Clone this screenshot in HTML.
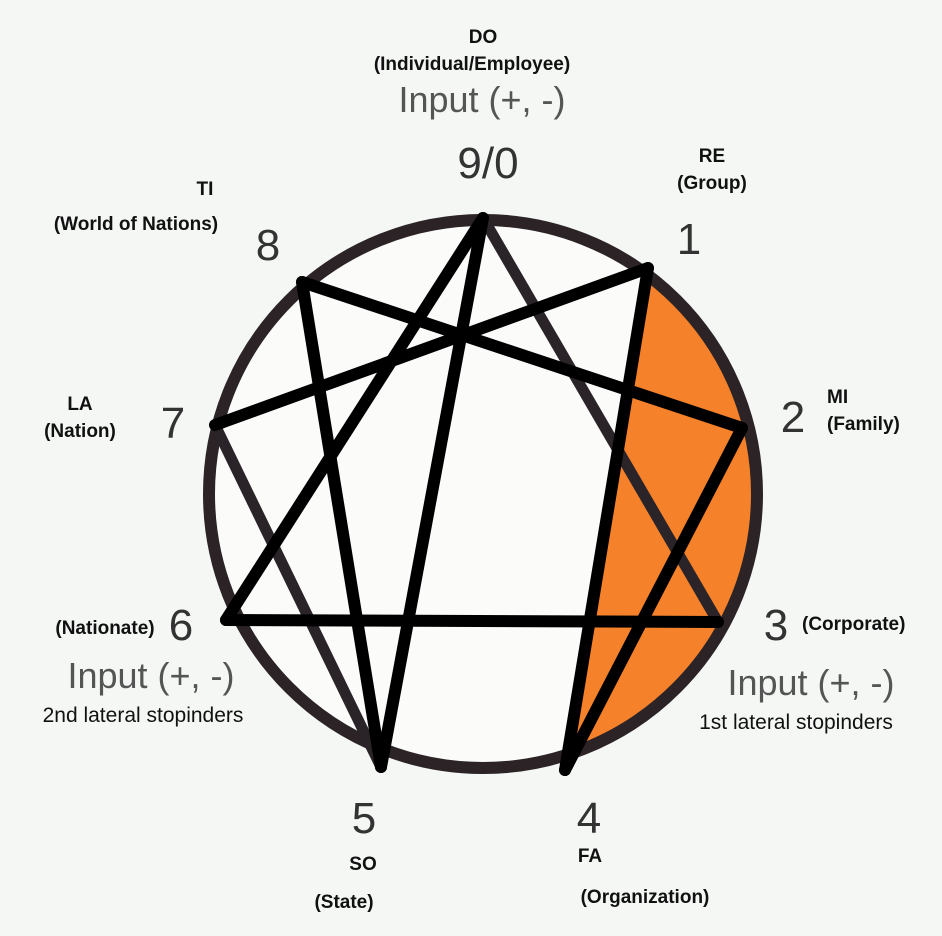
<!DOCTYPE html>
<html><head><style>
html,body{margin:0;padding:0;background:#f4f7f4;}
svg{display:block}
.b{font-family:"Liberation Sans",sans-serif;font-weight:bold;font-size:19px;fill:#111}
.n{font-family:"Liberation Sans",sans-serif;font-size:44px;fill:#333}
.i{font-family:"Liberation Sans",sans-serif;font-size:36px;fill:#555}
.s{font-family:"Liberation Sans",sans-serif;font-size:21px;fill:#111}
</style></head><body>
<svg width="942" height="936" viewBox="0 0 942 936">
<defs><clipPath id="c"><circle cx="483" cy="494" r="274"/></clipPath></defs>
<rect width="942" height="936" fill="#f4f7f4"/>
<circle cx="483" cy="494" r="274" fill="#fbfbfa"/>
<path d="M648,268 L800,200 L820,800 L565,770 Z" fill="#f5822a" clip-path="url(#c)"/>
<circle cx="483" cy="494" r="274" fill="none" stroke="#2b2326" stroke-width="12"/>
<g stroke="#2a2428" stroke-width="11" stroke-linecap="round" fill="none">
<line x1="483" y1="218" x2="718" y2="622"/>
<line x1="215" y1="425" x2="381" y2="767"/>
</g>
<g stroke="#000" stroke-width="12" stroke-linecap="round" fill="none">
<line x1="483" y1="218" x2="226" y2="620"/>
<line x1="226" y1="620" x2="718" y2="622"/>
<line x1="483" y1="218" x2="381" y2="767"/>
<line x1="648" y1="268" x2="565" y2="770"/>
<line x1="565" y1="770" x2="742" y2="428"/>
<line x1="742" y1="428" x2="302" y2="282"/>
<line x1="302" y1="282" x2="381" y2="767"/>
<line x1="215" y1="425" x2="648" y2="268"/>
</g>
<text class="b" x="483" y="43" text-anchor="middle">DO</text>
<text class="b" x="472" y="70" text-anchor="middle">(Individual/Employee)</text>
<text class="i" x="482" y="112" text-anchor="middle">Input (+, -)</text>
<text class="n" x="488" y="178" text-anchor="middle" fill="#111">9/0</text>
<text class="b" x="712" y="162" text-anchor="middle">RE</text>
<text class="b" x="712" y="189" text-anchor="middle">(Group)</text>
<text class="n" x="689" y="254" text-anchor="middle">1</text>
<text class="b" x="205" y="195" text-anchor="middle">TI</text>
<text class="b" x="136" y="230" text-anchor="middle">(World of Nations)</text>
<text class="n" x="268" y="260" text-anchor="middle">8</text>
<text class="b" x="827" y="403">MI</text>
<text class="b" x="827" y="430">(Family)</text>
<text class="n" x="793" y="432" text-anchor="middle">2</text>
<text class="b" x="80" y="410" text-anchor="middle">LA</text>
<text class="b" x="80" y="437" text-anchor="middle">(Nation)</text>
<text class="n" x="173" y="438" text-anchor="middle">7</text>
<text class="n" x="776" y="640" text-anchor="middle">3</text>
<text class="b" x="802" y="630">(Corporate)</text>
<text class="i" x="811" y="695" text-anchor="middle">Input (+, -)</text>
<text class="s" x="796" y="729" text-anchor="middle">1st lateral stopinders</text>
<text class="b" x="105" y="634" text-anchor="middle">(Nationate)</text>
<text class="n" x="181" y="640" text-anchor="middle">6</text>
<text class="i" x="151" y="688" text-anchor="middle">Input (+, -)</text>
<text class="s" x="143" y="722" text-anchor="middle">2nd lateral stopinders</text>
<text class="n" x="364" y="833" text-anchor="middle">5</text>
<text class="b" x="363" y="870" text-anchor="middle">SO</text>
<text class="b" x="344" y="908" text-anchor="middle">(State)</text>
<text class="n" x="589" y="833" text-anchor="middle">4</text>
<text class="b" x="590" y="862" text-anchor="middle">FA</text>
<text class="b" x="645" y="903" text-anchor="middle">(Organization)</text>
</svg>
</body></html>
